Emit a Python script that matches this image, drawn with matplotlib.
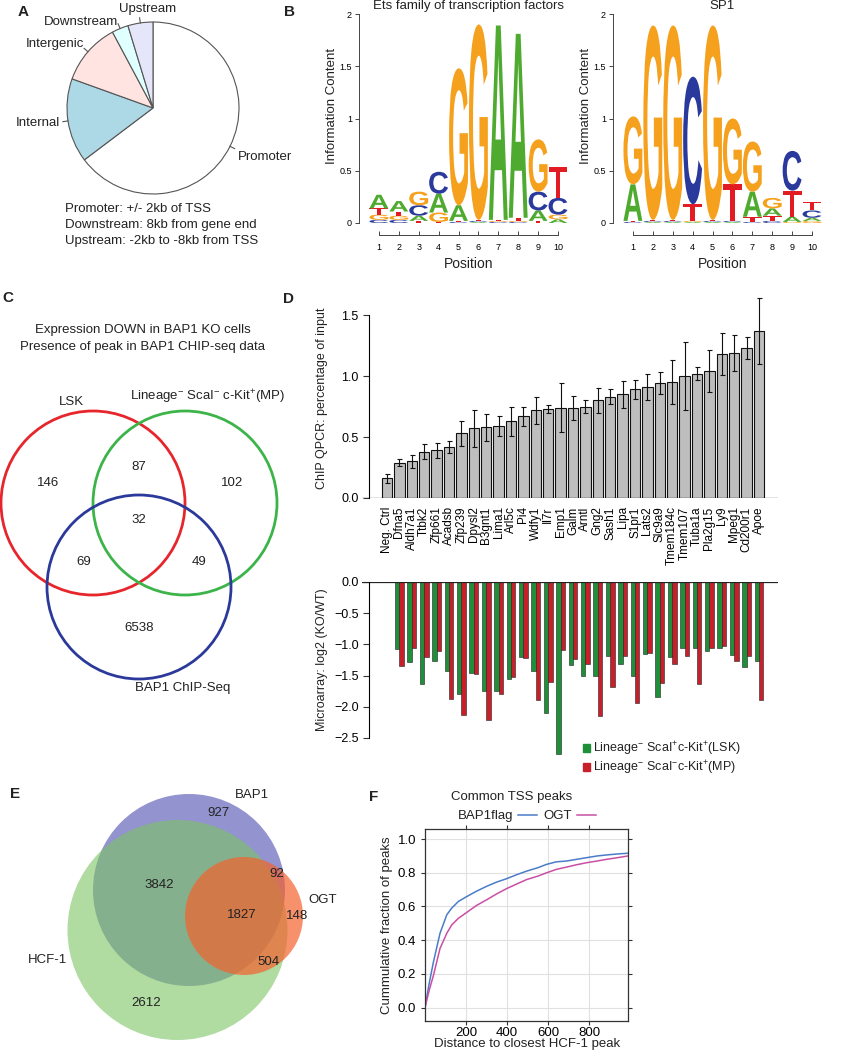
import numpy as np
import matplotlib
matplotlib.use('Agg')
import matplotlib.pyplot as plt
from matplotlib.patches import Circle, PathPatch, Patch
from matplotlib.textpath import TextPath
from matplotlib.font_manager import FontProperties
from matplotlib.transforms import Affine2D

plt.rcParams['font.family'] = ['Liberation Sans', 'DejaVu Sans']
plt.rcParams['mathtext.fontset'] = 'custom'
plt.rcParams['mathtext.rm'] = 'Liberation Sans'
plt.rcParams['mathtext.it'] = 'Liberation Sans:italic'
plt.rcParams['mathtext.bf'] = 'Liberation Sans:bold'
plt.rcParams['axes.unicode_minus'] = False
plt.rcParams['text.color'] = '#222222'

# ---- A: peak location pie
pie_labels = ['Promoter', 'Internal', 'Intergenic', 'Downstream', 'Upstream']
pie_values = [64.7, 15.8, 11.7, 3.1, 4.7]
pie_colors = ['white', 'lightblue', 'mistyrose', 'lightcyan', 'lavender']
pie_notes = ['Promoter: +/- 2kb of TSS',
             'Downstream: 8kb from gene end',
             'Upstream: -2kb to -8kb from TSS']

# ---- B: motif logos (information content per base, positions 1-10)
ets_a = [0.13, 0.10, 0.05, 0.18, 0.15, 0.01, 1.86, 1.76, 0.10, 0.035]
ets_c = [0.03, 0.03, 0.10, 0.21, 0.01, 0.01, 0.01, 0.01, 0.18, 0.16]
ets_g = [0.05, 0.04, 0.13, 0.09, 1.31, 1.87, 0.01, 0.01, 0.50, 0.045]
ets_t = [0.06, 0.04, 0.02, 0.01, 0.01, 0.01, 0.01, 0.03, 0.02, 0.30]

sp1_a = [0.35, 0.01, 0.01, 0.01, 0.01, 0.01, 0.24, 0.07, 0.05, 0.03]
sp1_c = [0.01, 0.01, 0.01, 1.22, 0.01, 0.01, 0.01, 0.02, 0.38, 0.07]
sp1_g = [0.65, 1.86, 1.86, 0.01, 1.86, 0.63, 0.48, 0.10, 0.01, 0.02]
sp1_t = [0.01, 0.01, 0.01, 0.16, 0.01, 0.35, 0.05, 0.05, 0.25, 0.08]

# ---- C: venn counts
venn_c_counts = [146, 87, 102, 32, 69, 49, 6538]

# ---- D: ChIP qPCR and microarray
genes = ['Neg. Ctrl', 'Dfna5', 'Aldh7a1', 'Ttbk2', 'Zfp661', 'Acadsb', 'Zfp239',
         'Dpysl2', 'B3gnt1', 'Lima1', 'Arl5c', 'Pi4', 'Wdfy1', 'Il7r', 'Emp1',
         'Galm', 'Arntl', 'Gng2', 'Sash1', 'Lipa', 'S1pr1', 'Lats2', 'Slc9a9',
         'Tmem184c', 'Tmem107', 'Tuba1a', 'Pla2g15', 'Ly9', 'Mpeg1', 'Cd200r1', 'Apoe']
chip = [0.16, 0.29, 0.30, 0.38, 0.39, 0.42, 0.53, 0.57, 0.58, 0.59, 0.63, 0.67,
        0.72, 0.73, 0.74, 0.74, 0.75, 0.80, 0.83, 0.85, 0.89, 0.91, 0.94, 0.95,
        1.00, 1.02, 1.04, 1.18, 1.19, 1.23, 1.37]
chip_err = [0.035, 0.03, 0.05, 0.06, 0.06, 0.05, 0.10, 0.15, 0.11, 0.08, 0.12, 0.08,
            0.11, 0.03, 0.20, 0.10, 0.05, 0.10, 0.06, 0.11, 0.08, 0.11, 0.09, 0.18,
            0.28, 0.05, 0.17, 0.17, 0.15, 0.09, 0.27]
micro_lsk = [-1.07, -1.29, -1.63, -1.26, -1.42, -1.80, -1.46, -1.74, -1.74, -1.55,
             -1.20, -1.43, -2.10, -2.76, -1.33, -1.50, -1.50, -1.18, -1.32, -1.50,
             -1.16, -1.85, -1.20, -1.06, -1.05, -1.10, -1.05, -1.17, -1.36, -1.26]
micro_mp = [-1.35, -1.05, -1.20, -1.10, -1.88, -2.13, -1.47, -2.21, -1.79, -1.52,
            -1.22, -1.89, -1.61, -1.09, -1.23, -1.32, -2.14, -1.69, -1.18, -1.94,
            -1.13, -1.62, -1.31, -1.19, -1.63, -1.06, -1.03, -1.26, -1.18, -1.89]

# ---- E: venn counts
venn_e_counts = [927, 3842, 92, 1827, 148, 504, 2612]

# ---- F: cumulative distributions
dist = [0, 20, 41, 73, 106, 130, 163, 198, 250, 301, 350, 398, 450, 496, 550,
        593, 640, 691, 740, 789, 840, 886, 940, 990]
bap1_frac = [0, 0.14, 0.27, 0.44, 0.55, 0.59, 0.63, 0.655, 0.69, 0.72, 0.745, 0.765,
             0.79, 0.81, 0.83, 0.85, 0.865, 0.87, 0.88, 0.89, 0.90, 0.906, 0.912, 0.916]
ogt_frac = [0, 0.10, 0.19, 0.35, 0.44, 0.49, 0.53, 0.56, 0.605, 0.64, 0.675, 0.706,
            0.735, 0.76, 0.78, 0.80, 0.82, 0.834, 0.848, 0.86, 0.87, 0.88, 0.89, 0.90]

W, H = 850, 1050


def box(l, t, r, b):
    return [l / W, 1 - b / H, (r - l) / W, (b - t) / H]


def ftext(x, y, s, **kw):
    kw.setdefault('fontsize', 9.5)
    kw.setdefault('ha', 'center')
    kw.setdefault('va', 'center')
    fig.text(x / W, 1 - y / H, s, **kw)


fig = plt.figure(figsize=(8.5, 10.5), dpi=100)

# ================= A
axA = fig.add_axes(box(53, 8, 253, 208))
wedges, _ = axA.pie(pie_values, colors=pie_colors, startangle=90, counterclock=False,
                    wedgeprops=dict(edgecolor='#555555', linewidth=0.8))
lim = 100 / 86
axA.set_xlim(-lim, lim)
axA.set_ylim(-lim, lim)
axA.set_aspect('equal')
label_pos = [(0.99, -0.57, 'left'), (-1.08, -0.17, 'right'), (-0.80, 0.75, 'right'),
             (-0.41, 1.0, 'right'), (-0.06, 1.15, 'center')]
for w, lab, (tx, ty, ha) in zip(wedges, pie_labels, label_pos):
    ang = np.deg2rad((w.theta1 + w.theta2) / 2)
    x0, y0 = np.cos(ang), np.sin(ang)
    axA.plot([x0, 1.06 * x0], [y0, 1.06 * y0], color='#555555', lw=0.8, clip_on=False)
    axA.text(tx, ty, lab, ha=ha, va='center', fontsize=9.5, clip_on=False)
for i, note in enumerate(pie_notes):
    ftext(65, 209 + 16 * i, note, ha='left')

# ================= B
logo_colors = {'A': '#4fab30', 'C': '#2a3a9c', 'G': '#f5a11e', 'T': '#e21c22'}
letter_font = FontProperties(family='Liberation Sans', weight='bold')


def draw_letter(ax, ch, x, y0, h):
    tp = TextPath((0, 0), ch, size=1, prop=letter_font)
    bb = tp.get_extents()
    tr = (Affine2D().translate(-bb.x0, -bb.y0)
          .scale(0.95 / bb.width, h / bb.height)
          .translate(x - 0.475, y0))
    ax.add_patch(PathPatch(tr.transform_path(tp), fc=logo_colors[ch], ec='none'))


def draw_logo(ax, heights):
    for i in range(10):
        col = sorted((heights[b][i], b) for b in 'ACGT')
        y = 0
        for h, b in col:
            draw_letter(ax, b, i + 1, y, h)
            y += h


logos = [
    ('Ets family of transcription factors', {'A': ets_a, 'C': ets_c, 'G': ets_g, 'T': ets_t}, 359),
    ('SP1', {'A': sp1_a, 'C': sp1_c, 'G': sp1_g, 'T': sp1_t}, 613),
]
for title, hts, left in logos:
    ax = fig.add_axes(box(left, 14, left + 10.6 * 19.9, 223))
    draw_logo(ax, hts)
    ax.set_xlim(0, 10.6)
    ax.set_ylim(0, 2)
    ax.spines[['top', 'right']].set_visible(False)
    for s in ['left', 'bottom']:
        ax.spines[s].set_color('#444444')
        ax.spines[s].set_linewidth(0.7)
    ax.spines['left'].set_bounds(0, 2)
    ax.spines['bottom'].set_position(('outward', 8.6))
    ax.spines['bottom'].set_bounds(1, 10)
    ax.set_xticks(range(1, 11))
    ax.tick_params(axis='x', direction='in', length=3, labelsize=6.5, pad=6,
                   color='#444444', width=0.7)
    ax.set_yticks([0, 0.5, 1, 1.5, 2], ['0', '0.5', '1', '1.5', '2'])
    ax.tick_params(axis='y', direction='out', length=3, labelsize=6.5, pad=2,
                   color='#444444', width=0.7)
    cx = left + 5.5 * 19.9
    ftext(cx, 6, title, fontsize=9.5)
    ftext(cx, 264, 'Position', fontsize=10)
    ftext(left - 27, 106, 'Information Content', rotation=90, fontsize=9.5)

# ================= D (top: ChIP qPCR)
centers = 0.7 + 1.2 * np.arange(len(genes))
ppu = 372 / 36.0
xl = (0.7 - 25 / ppu, 36.7 + 19 / ppu)
axD1 = fig.add_axes(box(362, 498 - 1.65 * 122, 778, 498))
axD1.bar(centers, chip, width=1.0, color='#bebebe', edgecolor='#111111', linewidth=0.8)
axD1.errorbar(centers, chip, yerr=chip_err, fmt='none', ecolor='#111111',
              elinewidth=0.8, capsize=1.8, capthick=0.8)
axD1.set_xlim(*xl)
axD1.set_ylim(0, 1.65)
axD1.axhline(0, color='#222222', lw=0.9)
for s in ['top', 'right', 'bottom']:
    axD1.spines[s].set_visible(False)
axD1.spines['left'].set_position(('axes', 7 / 416))
axD1.spines['left'].set_bounds(0, 1.5)
axD1.spines['left'].set_linewidth(0.8)
axD1.set_yticks([0, 0.5, 1.0, 1.5], ['0.0', '0.5', '1.0', '1.5'])
axD1.tick_params(axis='y', labelsize=9, length=4, color='#333333')
axD1.set_xticks(centers, genes, rotation=90, fontsize=8.5)
axD1.tick_params(axis='x', length=0, pad=6)
ftext(322, 398, 'ChIP QPCR: percentage of input', rotation=90, fontsize=9)

# ================= D (bottom: microarray)
axD2 = fig.add_axes(box(362, 582, 778, 582 + 2.85 * 62.4))
bw = 0.42
gx = centers[1:]
axD2.bar(gx - bw / 2, micro_lsk, width=bw, color='#1f8f3a', edgecolor='#222222', linewidth=0.4)
axD2.bar(gx + bw / 2, micro_mp, width=bw, color='#c8202a', edgecolor='#222222', linewidth=0.4)
axD2.set_xlim(*xl)
axD2.set_ylim(-2.85, 0)
axD2.axhline(0, color='#222222', lw=0.9)
for s in ['top', 'right', 'bottom']:
    axD2.spines[s].set_visible(False)
axD2.spines['left'].set_position(('axes', 7 / 416))
axD2.spines['left'].set_bounds(-2.5, 0)
axD2.spines['left'].set_linewidth(0.8)
axD2.set_yticks([0, -0.5, -1.0, -1.5, -2.0, -2.5],
                ['0.0', '\u22120.5', '\u22121.0', '\u22121.5', '\u22122.0', '\u22122.5'])
axD2.tick_params(axis='y', labelsize=9, length=4, color='#333333')
axD2.set_xticks([])
ftext(322, 660, 'Microarray: log2 (KO/WT)', rotation=90, fontsize=9)
handles = [Patch(color='#1f8f3a'), Patch(color='#c8202a')]
labels = [r'Lineage$^{-}$ ScaI$^{+}$c-Kit$^{+}$(LSK)',
          r'Lineage$^{-}$ ScaI$^{-}$c-Kit$^{+}$(MP)']
axD2.legend(handles, labels, loc='upper left', bbox_to_anchor=(583 / W, 1 - 740 / H),
            bbox_transform=fig.transFigure, frameon=False, fontsize=9,
            handlelength=0.55, handleheight=0.55, handletextpad=0.25,
            labelspacing=0.05, borderpad=0, borderaxespad=0)

# ================= F
axF = fig.add_axes(box(425, 829, 628, 1021))
axF.plot(dist, bap1_frac, color='#4a7cc9', lw=1.1, label='BAP1flag')
axF.plot(dist, ogt_frac, color='#c94fa5', lw=1.1, label='OGT')
axF.set_xlim(0, 990)
axF.set_ylim(-0.08, 1.06)
axF.set_xticks([200, 400, 600, 800])
axF.set_yticks([0, 0.2, 0.4, 0.6, 0.8, 1.0], ['0.0', '0.2', '0.4', '0.6', '0.8', '1.0'])
axF.grid(color='#e0e0e0', lw=0.8)
axF.set_axisbelow(True)
axF.tick_params(top=True, right=True, direction='out', length=3, labelsize=9.5,
                color='#333333')
axF.tick_params(axis='x', pad=1)
for s in axF.spines.values():
    s.set_linewidth(0.9)
    s.set_color('#333333')
axF.legend(loc='lower center', bbox_to_anchor=(0.5, 1.035), ncol=2, markerfirst=False,
           frameon=False, fontsize=9.5, handlelength=1.4, columnspacing=0.5,
           handletextpad=0.4, borderpad=0, borderaxespad=0)
ftext(512, 797, 'Common TSS peaks', fontsize=9.5)
ftext(387, 925, 'Cummulative fraction of peaks', rotation=90, fontsize=9.5)
ftext(527, 1044, 'Distance to closest HCF-1 peak', fontsize=9.5)

# ================= overlay: venns and panel letters
ov = fig.add_axes([0, 0, 1, 1])
ov.set_xlim(0, W)
ov.set_ylim(H, 0)
ov.axis('off')
ov.set_zorder(5)
ov.patch.set_visible(False)

# C
ov.text(143, 330, 'Expression DOWN in BAP1 KO cells', ha='center', va='center', fontsize=9.5)
ov.text(143, 347, 'Presence of peak in BAP1 CHIP-seq data', ha='center', va='center', fontsize=9.5)
c_circles = [((93, 503), 92, '#e6262c'), ((185, 503), 92, '#3cb44a'), ((139, 587), 92, '#2b3a9a')]
for (cx, cy), r, col in c_circles:
    ov.add_patch(Circle((cx, cy), r, fill=False, ec=col, lw=2.0))
c_pos = [(48, 483), (139, 467), (232, 483), (139, 520), (84, 562), (199, 562), (139, 628)]
for (x, y), n in zip(c_pos, venn_c_counts):
    ov.text(x, y, str(n), ha='center', va='center', fontsize=9.5)
ov.text(71, 402, 'LSK', ha='center', va='center', fontsize=9.5)
ov.text(208, 397, r'Lineage$^{-}$ ScaI$^{-}$ c-Kit$^{+}$(MP)', ha='center', va='center', fontsize=9.5)
ov.text(183, 688, 'BAP1 ChIP-Seq', ha='center', va='center', fontsize=9.5)

# E
ov.add_patch(Circle((189, 890), 96, fc='#3b3ba8', alpha=0.55, ec='none'))
ov.add_patch(Circle((177.5, 930), 110, fc='#7cc462', alpha=0.6, ec='none'))
ov.add_patch(Circle((244, 916), 59, fc='#f4622e', alpha=0.7, ec='none'))
e_pos = [(218, 813), (159, 885), (277, 874), (242, 915), (297, 916), (268, 962), (146, 1003)]
for (x, y), n in zip(e_pos, venn_e_counts):
    ov.text(x, y, str(n), ha='center', va='center', fontsize=9.5)
ov.text(252, 795, 'BAP1', ha='center', va='center', fontsize=9.5)
ov.text(323, 900, 'OGT', ha='center', va='center', fontsize=9.5)
ov.text(48, 960, 'HCF-1', ha='center', va='center', fontsize=9.5)

for lab, x, y in [('A', 23, 12), ('B', 290, 12), ('C', 8, 298), ('D', 289, 299),
                  ('E', 15, 794), ('F', 374, 797)]:
    ov.text(x, y, lab, ha='center', va='center', fontsize=11, fontweight='bold')

fig.savefig('out.png', dpi=100)
